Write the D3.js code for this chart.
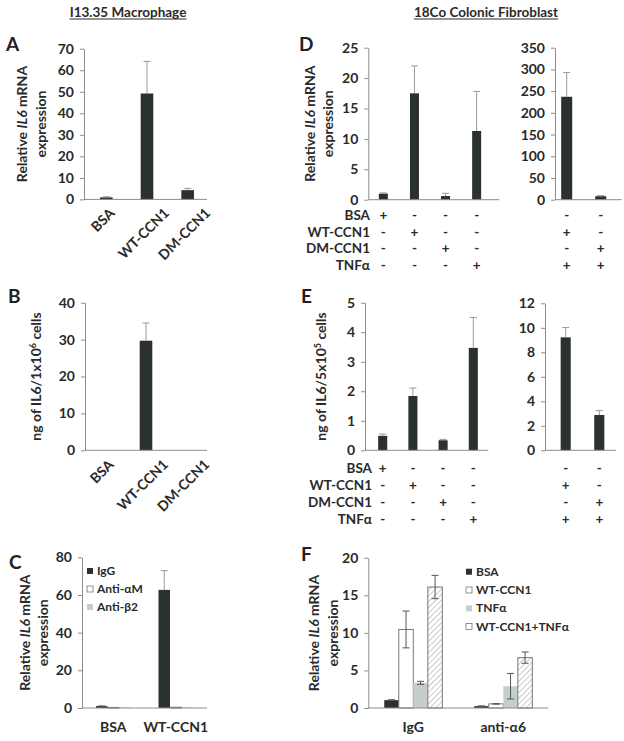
<!DOCTYPE html>
<html><head><meta charset="utf-8">
<script src="https://cdn.jsdelivr.net/npm/d3@7"></script>
<style>
body{margin:0;background:#fff}
svg{display:block}
text{font-family:Lato,"Open Sans",sans-serif}
</style>
</head><body>
<svg id="fig" width="624" height="741"></svg>
<script>
// ---------------- DATA ----------------
const titleLeft = "I13.35 Macrophage";
const titleRight = "18Co Colonic Fibroblast";

// Panel A
const aCats = ["BSA", "WT-CCN1", "DM-CCN1"];
const aVals = [0.95, 49.2, 4.3];
const aErr  = [0.3, 14.9, 0.8];
const aTicks = [0, 10, 20, 30, 40, 50, 60, 70];

// Panel B
const bCats = ["BSA", "WT-CCN1", "DM-CCN1"];
const bVals = [0, 29.7, 0];
const bErr  = [0, 4.8, 0];
const bTicks = [0, 10, 20, 30, 40];

// Panel C
const cGroups = ["BSA", "WT-CCN1"];
const cSeries = ["IgG", "Anti-αM", "Anti-β2"];
const cIgG    = [1.0, 62.7];
const cIgGErr = [0.35, 10.2];
const cAntiAM = [0.3, 0.4];
const cAntiB2 = [0.3, 0.3];
const cTicks = [0, 20, 40, 60, 80];

// Panel D
const dLeftCats  = ["c1", "c2", "c3", "c4"];
const dLeftVals  = [1.0, 17.5, 0.6, 11.3];
const dLeftErr   = [0.12, 4.5, 0.45, 6.5];
const dLeftTicks = [0, 5, 10, 15, 20, 25];
const dRightCats  = ["c5", "c6"];
const dRightVals  = [237, 8];
const dRightErr   = [56, 1.5];
const dRightTicks = [0, 50, 100, 150, 200, 250, 300, 350];

// Panel E
const eLeftVals  = [0.49, 1.84, 0.34, 3.47];
const eLeftErr   = [0.06, 0.27, 0.03, 1.03];
const eLeftTicks = [0, 1, 2, 3, 4, 5];
const eRightVals  = [9.22, 2.88];
const eRightErr   = [0.8, 0.36];
const eRightTicks = [0, 2, 4, 6, 8, 10, 12];

// Treatment table (rows) for D and E
const rowLabels = ["BSA", "WT-CCN1", "DM-CCN1", "TNFα"];
const leftSigns  = [["+","-","-","-"], ["-","+","-","-"], ["-","-","+","-"], ["-","-","-","+"]];
const rightSigns = [["-","-"], ["+","-"], ["-","+"], ["+","+"]];

// Panel F
const fGroups = ["IgG", "anti-α6"];
const fSeries = ["BSA", "WT-CCN1", "TNFα", "WT-CCN1+TNFα"];
const fBSA = [1.05, 0.25];   const fBSAErr = [0.05, 0.02];
const fWT  = [10.45, 0.55];  const fWTErr  = [2.45, 0.03];
const fTNF = [3.35, 2.9];    const fTNFErr = [0.2, 1.7];
const fWTT = [16.1, 6.7];    const fWTTErr = [1.55, 0.75];
const fTicks = [0, 5, 10, 15, 20];

// ---------------- STYLE ----------------
const DARK = "#2b3131", LIGHT = "#c6cecd", AX = "#8c8c8c", TXT = "#2a2a2a", OUT = "#777";
const svg = d3.select("#fig");

const defs = svg.append("defs");
const pat = defs.append("pattern").attr("id", "hatch").attr("patternUnits", "userSpaceOnUse")
  .attr("width", 4).attr("height", 4).attr("patternTransform", "rotate(45)");
pat.append("rect").attr("width", 4).attr("height", 4).attr("fill", "#fff");
pat.append("line").attr("x1", 0).attr("y1", 0).attr("x2", 0).attr("y2", 4)
  .attr("stroke", "#bdbdbd").attr("stroke-width", 1.6);

// ---------------- HELPERS ----------------
function panel(cfg) {
  const g = svg.append("g");
  const y = d3.scaleLinear().domain([0, cfg.ticks[cfg.ticks.length - 1]]).range(cfg.yRange);
  const x = d3.scaleBand().domain(cfg.cats).range(cfg.band).paddingInner(cfg.pad).paddingOuter(cfg.pad / 2);
  const sub = d3.scaleBand().domain(d3.range(cfg.series.length)).range([0, x.bandwidth()]);

  cfg.series.forEach((s, si) => {
    const data = cfg.cats.map((c, i) => ({c, v: s.vals[i], e: s.errs ? s.errs[i] : 0}));
    g.append("g").selectAll("rect").data(data).join("rect")
      .attr("x", d => x(d.c) + sub(si))
      .attr("width", sub.bandwidth())
      .attr("y", d => y(d.v))
      .attr("height", d => y(0) - y(d.v))
      .attr("fill", s.fill)
      .attr("stroke", s.stroke || "none")
      .attr("stroke-width", s.stroke ? 1 : 0);
    if (s.errs) {
      const eg = g.append("g").attr("stroke", cfg.errColor).attr("stroke-width", 1).attr("fill", "none");
      data.filter(d => d.e > 0).forEach(d => {
        const cx = x(d.c) + sub(si) + sub.bandwidth() / 2;
        const lo = cfg.errBoth ? d.v - d.e : d.v;
        const hi = d.v + d.e;
        eg.append("line").attr("x1", cx).attr("x2", cx).attr("y1", y(lo)).attr("y2", y(hi));
        eg.append("line").attr("x1", cx - 3.5).attr("x2", cx + 3.5).attr("y1", y(hi)).attr("y2", y(hi));
        if (cfg.errBoth) eg.append("line").attr("x1", cx - 3.5).attr("x2", cx + 3.5).attr("y1", y(lo)).attr("y2", y(lo));
      });
    }
  });

  const ax = g.append("g").attr("transform", `translate(${cfg.axisX},0)`)
    .call(d3.axisLeft(y).tickValues(cfg.ticks).tickFormat(d3.format("d")).tickSize(4).tickPadding(6).tickSizeOuter(0));
  ax.select(".domain").attr("stroke", AX);
  ax.selectAll(".tick line").attr("stroke", AX);
  ax.selectAll(".tick text").attr("fill", TXT).style("font-size", "14px").style("font-weight", "bold")
    .style("font-family", "Lato, sans-serif");
  g.append("line").attr("x1", cfg.axisX).attr("x2", cfg.xEnd).attr("y1", y(0)).attr("y2", y(0))
    .attr("stroke", AX).attr("stroke-width", 1);
  return {g, x, y, sub};
}

function rotatedLabels(p, cats, top) {
  cats.forEach(c => {
    const cx = p.x(c) + p.x.bandwidth() / 2;
    const t = p.g.append("text").text(c).attr("text-anchor", "end")
      .attr("fill", TXT).style("font-size", "14px").style("font-weight", "bold");
    const L = t.node().getComputedTextLength();
    t.attr("transform", `translate(${cx + 0.354 * L},${top + 6.5}) rotate(-45)`);
  });
}

function groupLabels(p, groups, baseY) {
  groups.forEach(gname => {
    p.g.append("text").text(gname).attr("x", p.x(gname) + p.x.bandwidth() / 2).attr("y", baseY)
      .attr("text-anchor", "middle").attr("fill", TXT).style("font-size", "14px").style("font-weight", "bold");
  });
}

function yLabel(lines, xs, cy) {
  lines.forEach((ln, i) => {
    const t = svg.append("text").attr("transform", `translate(${xs[i]},${cy}) rotate(-90)`)
      .attr("text-anchor", "middle").attr("fill", TXT).style("font-size", "14px").style("font-weight", "bold");
    ln.forEach(part => {
      const ts = t.append("tspan").text(part.t);
      if (part.i) ts.style("font-style", "italic");
      if (part.sup) ts.attr("baseline-shift", "super").style("font-size", "9px");
    });
  });
}

function letter(ch, x, y) {
  svg.append("text").text(ch).attr("x", x).attr("y", y).attr("fill", "#222")
    .style("font-size", "19px").style("font-weight", "bold");
}

function title(txt, cx, y) {
  const t = svg.append("text").text(txt).attr("x", cx).attr("y", y).attr("text-anchor", "middle")
    .attr("fill", TXT).style("font-size", "13.5px").style("font-weight", "bold");
  const L = t.node().getComputedTextLength();
  svg.append("line").attr("x1", cx - L / 2).attr("x2", cx + L / 2).attr("y1", y + 2.5).attr("y2", y + 2.5)
    .attr("stroke", TXT).attr("stroke-width", 1);
}

function table(p, signs, labelX, baseYs, showLabels) {
  rowLabels.forEach((lab, r) => {
    if (showLabels) {
      svg.append("text").text(lab).attr("x", labelX).attr("y", baseYs[r]).attr("text-anchor", "end")
        .attr("fill", TXT).style("font-size", "13.5px").style("font-weight", "bold");
    }
    p.x.domain().forEach((c, k) => {
      svg.append("text").text(signs[r][k]).attr("x", p.x(c) + p.x.bandwidth() / 2).attr("y", baseYs[r])
        .attr("text-anchor", "middle").attr("fill", TXT).style("font-size", "13.5px").style("font-weight", "bold");
    });
  });
}

function legend(items, x, y0, dy) {
  items.forEach((it, i) => {
    const yy = y0 + i * dy;
    svg.append("rect").attr("x", x).attr("y", yy - 3).attr("width", 6).attr("height", 6)
      .attr("fill", it.fill).attr("stroke", it.stroke || "none").attr("stroke-width", it.stroke ? 0.8 : 0);
    svg.append("text").text(it.name).attr("x", x + 10).attr("y", yy + 4).attr("fill", TXT)
      .style("font-size", "12px").style("font-weight", "bold");
  });
}

// ---------------- TITLES ----------------
title(titleLeft, 128, 16.5);
title(titleRight, 486, 16.5);

// ---------------- PANEL A ----------------
letter("A", 6, 51);
const pA = panel({axisX: 84, xEnd: 207, band: [86, 208], pad: 0.69, ticks: aTicks, yRange: [199.4, 48.7],
  series: [{vals: aVals, errs: aErr, fill: DARK}], cats: aCats, errColor: "#9a9a9a"});
rotatedLabels(pA, aCats, 207.5);
yLabel([[{t: "Relative "}, {t: "IL6", i: true}, {t: " mRNA"}], [{t: "expression"}]], [27, 46], 124);

// ---------------- PANEL B ----------------
letter("B", 8, 303);
const pB = panel({axisX: 85, xEnd: 207, band: [85, 207], pad: 0.69, ticks: bTicks, yRange: [450.3, 302.7],
  series: [{vals: bVals, errs: bErr, fill: DARK}], cats: bCats, errColor: "#9a9a9a"});
rotatedLabels(pB, bCats, 459);
yLabel([[{t: "ng of IL6/1x10"}, {t: "6", sup: true}, {t: " cells"}]], [41], 376.5);

// ---------------- PANEL C ----------------
letter("C", 9, 569);
const pC = panel({axisX: 82, xEnd: 207, band: [82, 207], pad: 0.448, ticks: cTicks, yRange: [708, 557.3],
  series: [
    {vals: cIgG, errs: cIgGErr, fill: DARK},
    {vals: cAntiAM, fill: "#fff", stroke: OUT},
    {vals: cAntiB2, fill: LIGHT}
  ], cats: cGroups, errColor: "#9a9a9a"});
groupLabels(pC, cGroups, 732);
legend([{name: cSeries[0], fill: DARK}, {name: cSeries[1], fill: "#fff", stroke: OUT}, {name: cSeries[2], fill: LIGHT}], 87, 571, 18);
yLabel([[{t: "Relative "}, {t: "IL6", i: true}, {t: " mRNA"}], [{t: "expression"}]], [30, 48], 632.7);

// ---------------- PANEL D ----------------
letter("D", 299, 51);
const pDL = panel({axisX: 368.3, xEnd: 499.3, band: [367.8, 492.2], pad: 0.71, ticks: dLeftTicks, yRange: [199.7, 47.7],
  series: [{vals: dLeftVals, errs: dLeftErr, fill: DARK}], cats: dLeftCats, errColor: "#9a9a9a"});
const pDR = panel({axisX: 555, xEnd: 621.7, band: [549.7, 617.7], pad: 0.676, ticks: dRightTicks, yRange: [199.7, 47.7],
  series: [{vals: dRightVals, errs: dRightErr, fill: DARK}], cats: dRightCats, errColor: "#9a9a9a"});
const dRows = [220, 236.5, 253, 270];
table(pDL, leftSigns, 370, dRows, true);
table(pDR, rightSigns, 0, dRows, false);
yLabel([[{t: "Relative "}, {t: "IL6", i: true}, {t: " mRNA"}], [{t: "expression"}]], [315, 333], 123.7);

// ---------------- PANEL E ----------------
letter("E", 301, 303);
const pEL = panel({axisX: 365, xEnd: 488.3, band: [367.6, 488.4], pad: 0.70, ticks: eLeftTicks, yRange: [450.3, 302.7],
  series: [{vals: eLeftVals, errs: eLeftErr, fill: DARK}], cats: dLeftCats, errColor: "#9a9a9a"});
const pER = panel({axisX: 545, xEnd: 616, band: [548.9, 616.1], pad: 0.70, ticks: eRightTicks, yRange: [450.3, 303.3],
  series: [{vals: eRightVals, errs: eRightErr, fill: DARK}], cats: dRightCats, errColor: "#9a9a9a"});
const eRows = [473, 490, 507, 524];
table(pEL, leftSigns, 372, eRows, true);
table(pER, rightSigns, 0, eRows, false);
yLabel([[{t: "ng of IL6/5x10"}, {t: "5", sup: true}, {t: " cells"}]], [326], 376.5);

// ---------------- PANEL F ----------------
letter("F", 301, 561);
const pF = panel({axisX: 368.3, xEnd: 548.3, band: [368.3, 548.3], pad: 0.355, ticks: fTicks, yRange: [708, 557.7],
  series: [
    {vals: fBSA, errs: fBSAErr, fill: DARK},
    {vals: fWT, errs: fWTErr, fill: "#fff", stroke: OUT},
    {vals: fTNF, errs: fTNFErr, fill: LIGHT},
    {vals: fWTT, errs: fWTTErr, fill: "url(#hatch)", stroke: OUT}
  ], cats: fGroups, errColor: "#555", errBoth: true});
groupLabels(pF, fGroups, 732);
legend([{name: fSeries[0], fill: DARK}, {name: fSeries[1], fill: "#fff", stroke: OUT},
        {name: fSeries[2], fill: LIGHT}, {name: fSeries[3], fill: "#fff", stroke: OUT}], 466, 571.7, 18.3);
yLabel([[{t: "Relative "}, {t: "IL6", i: true}, {t: " mRNA"}], [{t: "expression"}]], [319, 338], 633);
</script>
</body></html>
